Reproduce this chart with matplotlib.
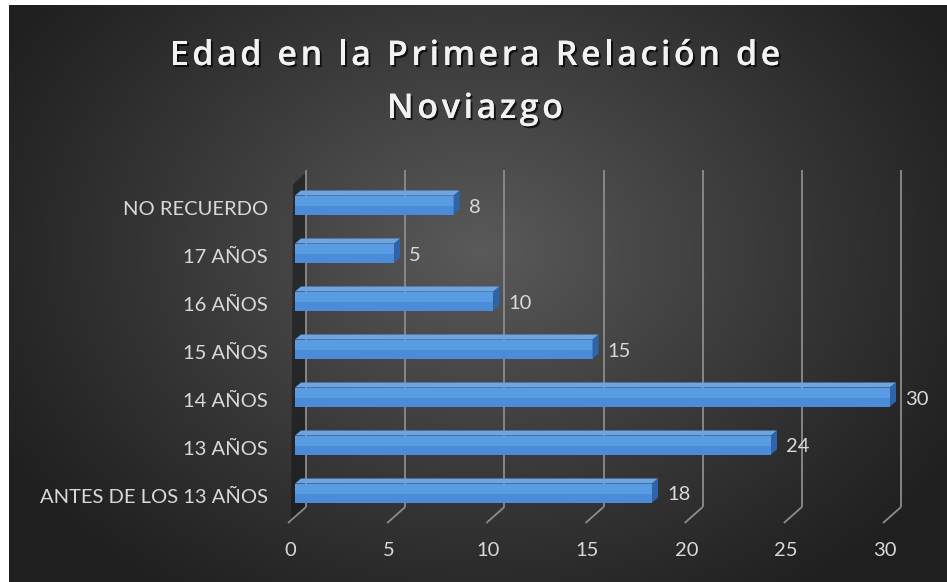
import numpy as np
import matplotlib
matplotlib.use("Agg")
import matplotlib.pyplot as plt
from matplotlib.patches import Polygon
from matplotlib import transforms, patheffects

# ---------------- data ----------------
categories = ["ANTES DE LOS 13 AÑOS", "13 AÑOS", "14 AÑOS", "15 AÑOS",
              "16 AÑOS", "17 AÑOS", "NO RECUERDO"]
values = [18, 24, 30, 15, 10, 5, 8]
x_ticks = [0, 5, 10, 15, 20, 25, 30]
title_lines = ["Edad en la Primera Relación de", "Noviazgo"]

W, H, DPI = 947, 582, 100
fig = plt.figure(figsize=(W / DPI, H / DPI), dpi=DPI)
fig.patch.set_facecolor("white")

# ---------------- background (radial gradient) ----------------
bx0, by0 = 9, 5
bg = fig.add_axes([bx0 / W, 0, (W - bx0) / W, (H - by0) / H])
xx, yy = np.meshgrid(np.arange(bx0, W), np.arange(by0, H))
r = np.sqrt(((xx - 480) / 560.0) ** 2 + ((yy - 250) / 430.0) ** 2)
t = np.clip(1 - r, 0, 1) ** 1.1
lev = (0x1f + (0x5a - 0x1f) * t) / 255.0
img = np.dstack([lev, lev, lev])
bg.imshow(img, aspect="auto", interpolation="bilinear")
bg.set_axis_off()

# ---------------- main axes ----------------
FX0, FX1 = 288, 883          # front floor x pixels for 0 and 30
FY0, FYT = 523, 170          # front floor y, top of walls (from top)
ax = fig.add_axes([FX0 / W, (H - FY0) / H, (FX1 - FX0) / W, (FY0 - FYT) / H])
ax.set_facecolor("none")
ax.set_axis_off()
ylo = -0.625
yhi = ylo + (FY0 - FYT) / 48.0
ax.set_xlim(0, 30)
ax.set_ylim(ylo, yhi)

ux = (FX1 - FX0) / 30.0
uy = 48.0


def off(dx, dy):
    return ax.transData + transforms.ScaledTranslation(dx / DPI, dy / DPI, fig.dpi_scale_trans)


Dx, Dy = 18 / ux, 16 / uy     # depth of the 3-D box, in data units

# left wall shadow
wall = Polygon([(3 / ux, ylo), (Dx, ylo + Dy), (Dx, yhi - 0.05), (5 / ux, yhi - 0.3)],
               closed=True, facecolor="#141414", alpha=0.55, edgecolor="none", zorder=1)
ax.add_patch(wall)

# gridlines (back wall + floor diagonals)
gcol = "#8c8c8c"
for tk in x_ticks:
    ax.plot([tk, tk + Dx], [ylo, ylo + Dy], color=gcol, lw=1.3, zorder=2,
            solid_capstyle="butt", clip_on=False)
    ax.plot([tk + Dx, tk + Dx], [ylo + Dy, yhi], color=gcol, lw=1.3, zorder=2,
            solid_capstyle="butt", clip_on=False)

# bars
h = 19 / uy
dx, dy = 6 / ux, 5 / uy
ypos = np.arange(len(categories))
tr = off(7, 0)
ax.barh(ypos, values, height=h, color="#4a8cd8", edgecolor="none", zorder=3,
        transform=tr, clip_on=False)
ax.barh(ypos + h * 0.2, values, height=h * 0.5, color="#5a9ce3", edgecolor="none",
        zorder=3.1, transform=tr, clip_on=False)
for i, v in enumerate(values):
    top = Polygon([(0, i + h / 2), (v, i + h / 2), (v + dx, i + h / 2 + dy), (dx, i + h / 2 + dy)],
                  closed=True, facecolor="#6aa5e6", edgecolor="none", zorder=3.2,
                  transform=tr, clip_on=False)
    side = Polygon([(v, i - h / 2), (v + dx, i - h / 2 + dy), (v + dx, i + h / 2 + dy), (v, i + h / 2)],
                   closed=True, facecolor="#2f65a8", edgecolor="none", zorder=3.2,
                   transform=tr, clip_on=False)
    ax.add_patch(top)
    ax.add_patch(side)
    ax.text(v, i, str(v), transform=off(22, -2), ha="left", va="center",
            color="#d9d9d9", fontsize=14.5, family="Lato", zorder=5, clip_on=False)

# category labels
for i, c in enumerate(categories):
    ax.text(0, i, c, transform=off(-20, -4), ha="right", va="center",
            color="#d9d9d9", fontsize=14.5, family="Lato", clip_on=False)

# value-axis tick labels
for tk in x_ticks:
    ax.text(tk, ylo, str(tk), transform=off(2, -27), ha="center", va="center",
            color="#d9d9d9", fontsize=14.5, family="Lato", clip_on=False)

# title with letter spacing
shadow = [patheffects.withSimplePatchShadow(offset=(1.5, -1.5), shadow_rgbFace="black", alpha=0.7),
          patheffects.Normal()]
tkw = dict(color="#f2f2f2", fontsize=24.5, family="Open Sans", fontweight="semibold")
renderer = fig.canvas.get_renderer()


def text_w(s):
    tt = fig.text(0, 0, s, **tkw)
    w = tt.get_window_extent(renderer).width
    tt.remove()
    return w


base = text_w("ii")
spacing = 3.6
for k, line in enumerate(title_lines):
    adv = [text_w("i" + ch + "i") - base for ch in line]
    total = sum(adv) + spacing * (len(line) - 1)
    x = 475 - total / 2
    ybase = 1 - (65 + 53 * k) / H
    for ch, a in zip(line, adv):
        if ch != " ":
            fig.text(x / W, ybase, ch, ha="left", va="baseline", path_effects=shadow, **tkw)
        x += a + spacing

fig.savefig("out.png", dpi=DPI)
